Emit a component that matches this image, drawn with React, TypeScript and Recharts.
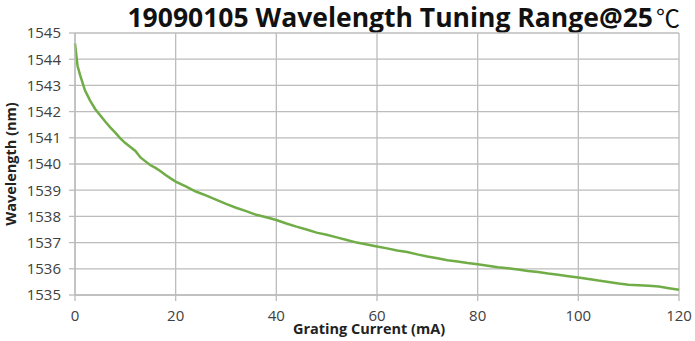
import { LineChart, Line, XAxis, YAxis, CartesianGrid, Label } from 'recharts'

const current = [
  0, 0.5, 1, 2, 3, 4, 5, 6, 7, 8, 9, 10, 11, 12, 13, 14, 15, 16, 17, 18, 19, 20,
  22, 24, 26, 28, 30, 32, 34, 36, 38, 40, 42, 44, 46, 48, 50, 52, 54, 56, 58, 60,
  62, 64, 66, 68, 70, 72, 74, 76, 78, 80, 82, 84, 86, 88, 90, 92, 94, 96, 98, 100,
  102, 104, 106, 108, 110, 112, 114, 116, 118, 120,
]

const wavelength = [
  1544.6, 1543.75, 1543.4, 1542.8, 1542.42, 1542.1, 1541.86, 1541.62, 1541.4, 1541.2,
  1540.98, 1540.8, 1540.65, 1540.5, 1540.25, 1540.1, 1539.95, 1539.85, 1539.72, 1539.58,
  1539.45, 1539.33, 1539.15, 1538.95, 1538.8, 1538.64, 1538.48, 1538.33, 1538.2, 1538.06,
  1537.97, 1537.86, 1537.73, 1537.61, 1537.5, 1537.38, 1537.3, 1537.2, 1537.1, 1537.0,
  1536.93, 1536.85, 1536.78, 1536.7, 1536.64, 1536.55, 1536.47, 1536.4, 1536.33, 1536.28,
  1536.22, 1536.17, 1536.12, 1536.06, 1536.02, 1535.97, 1535.92, 1535.88, 1535.82, 1535.77,
  1535.72, 1535.67, 1535.61, 1535.55, 1535.5, 1535.44, 1535.39, 1535.37, 1535.35, 1535.32,
  1535.26, 1535.2,
]

const xTicks = [0, 20, 40, 60, 80, 100, 120]
const yTicks = [1535, 1536, 1537, 1538, 1539, 1540, 1541, 1542, 1543, 1544, 1545]

const data = current.map((c, i) => ({ current: c, wavelength: wavelength[i] }))

const font = '"Open Sans", sans-serif'
const gridColor = '#bcbcbc'
const textColor = '#404040'

export default function App() {
  return (
    <div style={{ position: 'absolute', left: 0, top: 0, width: 695, height: 341, background: '#fff' }}>
      <div
        style={{
          position: 'absolute',
          left: 0,
          width: 680,
          top: 1,
          textAlign: 'right',
          fontFamily: font,
          fontWeight: 700,
          fontSize: 26.5,
          lineHeight: '33px',
          color: '#111',
          whiteSpace: 'nowrap',
        }}
      >
        19090105 Wavelength Tuning Range@25
        <span
          style={{
            fontFamily: '"Noto Sans CJK SC"',
            fontWeight: 400,
            fontSize: 24,
            lineHeight: '24px',
            marginLeft: 3,
          }}
        >
          ℃
        </span>
      </div>
      <LineChart
        width={695}
        height={341}
        data={data}
        margin={{ top: 33, right: 16, left: 0, bottom: 0 }}
      >
        <CartesianGrid stroke={gridColor} strokeWidth={1.3} />
        <XAxis
          dataKey="current"
          type="number"
          domain={[0, 120]}
          ticks={xTicks}
          tick={{ fontSize: 15, fill: textColor, fontFamily: font }}
          axisLine={{ stroke: gridColor, strokeWidth: 1.3 }}
          tickLine={{ stroke: gridColor, strokeWidth: 1.3 }}
          tickSize={6}
          tickMargin={9}
          height={46}
        >
          <Label
            value="Grating Current (mA)"
            position="insideBottom"
            offset={7}
            dx={-8}
            style={{ fontSize: 14.5, fontWeight: 700, fill: '#222', fontFamily: font }}
          />
        </XAxis>
        <YAxis
          type="number"
          domain={[1535, 1545]}
          ticks={yTicks}
          interval={0}
          tick={{ fontSize: 15, fill: textColor, fontFamily: font }}
          axisLine={{ stroke: gridColor, strokeWidth: 1.3 }}
          tickLine={{ stroke: gridColor, strokeWidth: 1.3 }}
          tickSize={6}
          tickMargin={8}
          width={75}
        >
          <Label
            value="Wavelength (nm)"
            angle={-90}
            position="insideLeft"
            offset={0}
            dx={11}
            style={{ fontSize: 14.5, fontWeight: 700, fill: '#222', fontFamily: font, textAnchor: 'middle' }}
          />
        </YAxis>
        <Line
          type="linear"
          dataKey="wavelength"
          stroke="#70ad47"
          strokeWidth={2.5}
          dot={false}
          isAnimationActive={false}
        />
      </LineChart>
    </div>
  )
}
